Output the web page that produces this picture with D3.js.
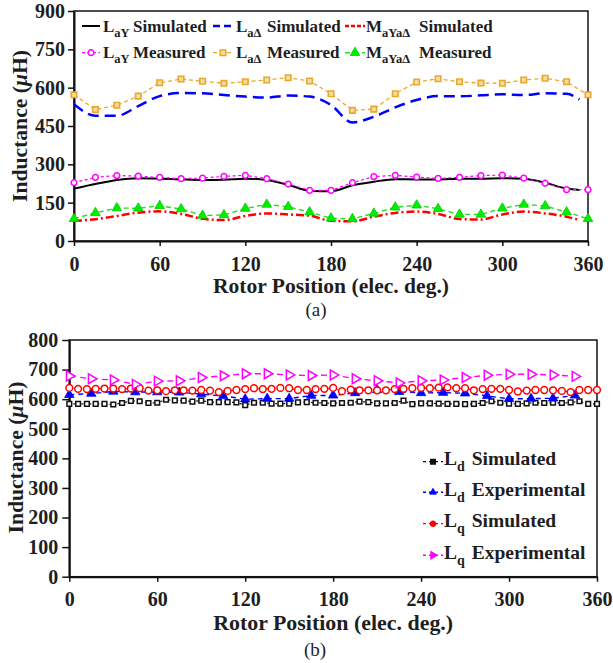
<!DOCTYPE html>
<html>
<head>
<meta charset="utf-8">
<script src="https://cdn.jsdelivr.net/npm/d3@7"></script>
<style>
  body { margin: 0; background: #fff; }
  svg text { font-family: "Liberation Serif", "Times New Roman", serif; fill: #1e1e1e; }
</style>
</head>
<body>
<div id="chart"></div>
<script>
// ---- data: chart (a), rotor position in elec. deg.
const simPos = [0, 15, 30, 45, 60, 75, 90, 105, 120, 135, 150, 165, 180, 195, 210, 225, 240, 255, 270, 285, 300, 315, 330, 345, 354];
const measPos = [0, 15, 30, 45, 60, 75, 90, 105, 120, 135, 150, 165, 180, 195, 210, 225, 240, 255, 270, 285, 300, 315, 330, 345, 360];

const laySim = [205, 223, 239, 246, 244, 241, 239, 240, 244, 239, 220, 197, 195, 218, 232, 242, 241, 241, 244, 244, 246, 244, 228, 205, 200];
const ladSim = [535, 490, 490, 528, 567, 579, 578, 571, 565, 561, 569, 565, 532, 464, 486, 523, 552, 567, 566, 570, 574, 571, 578, 576, 554];
const mSim = [79, 85, 98, 111, 116, 106, 87, 82, 98, 108, 104, 99, 79, 77, 95, 110, 115, 106, 86, 84, 104, 115, 108, 95, 82];

const layMeas = [228, 249, 256, 254, 249, 244, 246, 253, 257, 244, 223, 198, 198, 228, 252, 257, 250, 245, 249, 256, 258, 246, 226, 201, 201];
const ladMeas = [572, 514, 531, 567, 619, 634, 625, 617, 623, 630, 639, 626, 576, 511, 516, 576, 622, 635, 623, 618, 617, 630, 637, 623, 572];
const mMeas = [87, 110, 129, 128, 138, 125, 100, 102, 127, 143, 134, 113, 89, 87, 108, 132, 140, 126, 104, 104, 128, 143, 137, 113, 87];

// ---- data: chart (b)
const simPosB = [0, 6, 12, 18, 24, 30, 36, 42, 48, 54, 60, 66, 72, 78, 84, 90, 96, 102, 108, 114, 120, 126, 132, 138, 144, 150, 156, 162, 168, 174,
  180, 186, 192, 198, 204, 210, 216, 222, 228, 234, 240, 246, 252, 258, 264, 270, 276, 282, 288, 294, 300, 306, 312, 318, 324, 330, 336, 342, 348, 354, 360];
const expPosB = [0, 15, 30, 45, 60, 75, 90, 105, 120, 135, 150, 165, 180, 195, 210, 225, 240, 255, 270, 285, 300, 315, 330, 345];

const ldSim = [584, 584, 584, 584, 584, 582, 587, 594, 593, 587, 588, 598, 596, 595, 592, 595, 590, 590, 590, 589, 580, 588, 588, 585, 585, 585, 589, 590,
  588, 587, 586, 587, 588, 592, 590, 586, 586, 587, 595, 583, 586, 586, 585, 584, 584, 583, 584, 587, 593, 588, 585, 584, 586, 588, 587, 588, 587, 589, 593, 584, 584];
const lqSim = [638, 635, 634, 635, 636, 636, 634, 636, 637, 629, 630, 627, 630, 630, 629, 631, 629, 624, 628, 631, 634, 637, 634, 635, 638, 637, 631, 631,
  634, 635, 638, 627, 632, 630, 630, 630, 630, 634, 635, 637, 638, 637, 639, 640, 637, 637, 630, 634, 635, 635, 631, 626, 629, 631, 631, 630, 628, 624, 631, 631, 631];
const ldExp = [615, 619, 626, 624, 624, 623, 617, 611, 600, 602, 602, 612, 613, 621, 631, 625, 621, 622, 620, 611, 601, 602, 603, 613];
const lqExp = [678, 669, 665, 650, 661, 662, 673, 679, 686, 686, 682, 680, 682, 669, 662, 655, 662, 665, 673, 681, 684, 684, 682, 677];

const xTicks = [0, 60, 120, 180, 240, 300, 360];
const yTicksA = [0, 150, 300, 450, 600, 750, 900];
const yTicksB = [0, 100, 200, 300, 400, 500, 600, 700, 800];

const width = 613, height = 663;
const svg = d3.select("#chart").append("svg")
    .attr("width", width)
    .attr("height", height);

// marker shapes
const sym = {
    circle: d3.symbol().type(d3.symbolCircle),
    square: d3.symbol().type(d3.symbolSquare),
    triangle: d3.symbol().type(d3.symbolTriangle)
};
function drawMarker(g, shape, x, y, s) {
    if (shape === "tri-right") {
        g.append("path")
            .attr("d", d3.symbol().type(d3.symbolTriangle).size(s.size)())
            .attr("transform", `translate(${x},${y}) rotate(90)`)
            .attr("fill", s.fill).attr("stroke", s.stroke).attr("stroke-width", s.sw);
    } else {
        g.append("path")
            .attr("d", sym[shape].size(s.size)())
            .attr("transform", `translate(${x},${y})`)
            .attr("fill", s.fill).attr("stroke", s.stroke).attr("stroke-width", s.sw);
    }
}

function makePanel(cfg) {
    const g = svg.append("g");
    const x = d3.scaleLinear().domain([0, 360]).range([cfg.left, cfg.right]);
    const y = d3.scaleLinear().domain([0, cfg.ymax]).range([cfg.bottom, cfg.top]);

    // frame
    g.append("rect")
        .attr("x", cfg.left).attr("y", cfg.top)
        .attr("width", cfg.right - cfg.left).attr("height", cfg.bottom - cfg.top)
        .attr("fill", "none").attr("stroke", "#111").attr("stroke-width", 1.5);

    const xAxis = g.append("g")
        .attr("transform", `translate(0,${cfg.bottom})`)
        .call(d3.axisBottom(x).tickValues(xTicks).tickSize(5).tickSizeOuter(0).tickPadding(cfg.xPad));
    const yAxis = g.append("g")
        .attr("transform", `translate(${cfg.left},0)`)
        .call(d3.axisLeft(y).tickValues(cfg.yTicks).tickSize(cfg.ytick).tickSizeOuter(0).tickPadding(cfg.yPad));
    [xAxis, yAxis].forEach(a => {
        a.attr("font-family", null);
        a.select(".domain").attr("stroke", "#111").attr("stroke-width", 2);
        a.selectAll(".tick line").attr("stroke", "#111").attr("stroke-width", 1.5);
        a.selectAll(".tick text")
            .attr("fill", "#1e1e1e")
            .style("font-size", "20px")
            .style("font-weight", "bold");
    });

    // axis titles
    g.append("text")
        .attr("x", (cfg.left + cfg.right) / 2).attr("y", cfg.xTitleY)
        .attr("text-anchor", "middle")
        .attr("textLength", cfg.xTitleLen).attr("lengthAdjust", "spacingAndGlyphs")
        .style("font-size", "20px").style("font-weight", "bold")
        .text("Rotor Position (elec. deg.)");
    const yt = g.append("text")
        .attr("transform", `translate(${cfg.yTitleX},${cfg.yTitleMid}) rotate(-90)`)
        .attr("text-anchor", "middle")
        .attr("textLength", 152).attr("lengthAdjust", "spacingAndGlyphs")
        .style("font-size", "20px").style("font-weight", "bold");
    yt.append("tspan").text("Inductance (");
    yt.append("tspan").style("font-style", "italic").text("\u03bc");
    yt.append("tspan").text("H)");

    g.append("text")
        .attr("x", cfg.capX).attr("y", cfg.capY)
        .attr("text-anchor", "middle")
        .style("font-size", "19px")
        .text(cfg.caption);

    return { g, x, y };
}

function drawSeries(p, xs, ys, s) {
    const line = d3.line()
        .x((d, i) => p.x(xs[i]))
        .y(d => p.y(d))
        .curve(s.curve || d3.curveLinear);
    p.g.append("path")
        .datum(ys)
        .attr("d", line)
        .attr("fill", "none")
        .attr("stroke", s.color)
        .attr("stroke-width", s.width)
        .attr("stroke-dasharray", s.dash || null);
    if (s.marker) {
        ys.forEach((v, i) => drawMarker(p.g, s.marker, p.x(xs[i]), p.y(v), s.m));
    }
}

// legend label with subscript, then word placed at a fixed x
function legendLabel(g, x, y, main, sub, word, wordX, fs, subFs) {
    const t = g.append("text").attr("x", x).attr("y", y)
        .style("font-size", fs + "px").style("font-weight", "bold");
    t.append("tspan").text(main);
    t.append("tspan").attr("dy", subFs * 0.45).style("font-size", subFs + "px").text(sub);
    t.append("tspan").attr("x", wordX).attr("dy", -subFs * 0.45).text(word);
}
function legendSample(g, x1, x2, y, s) {
    g.append("line")
        .attr("x1", x1).attr("x2", x2).attr("y1", y).attr("y2", y)
        .attr("stroke", s.color).attr("stroke-width", s.width)
        .attr("stroke-dasharray", s.legDash || s.dash || null);
    if (s.marker) drawMarker(g, s.marker, (x1 + x2) / 2, y, s.m);
}

// ---------------- panel (a)
const pa = makePanel({
    left: 74, right: 588, top: 11, bottom: 241, ymax: 900, yTicks: yTicksA,
    ytick: 6, yPad: 3, xPad: 11,
    xTitleY: 293, xTitleLen: 236, yTitleX: 27, yTitleMid: 126,
    caption: "(a)", capX: 316, capY: 316
});

const stA = {
    laySim: { color: "#000", width: 2, curve: d3.curveMonotoneX },
    ladSim: { color: "#0000ff", width: 2.5, dash: "11,6", curve: d3.curveMonotoneX },
    mSim: { color: "#ff0000", width: 2.5, dash: "8,3,2,3", curve: d3.curveMonotoneX },
    layMeas: { color: "#ff00ff", width: 1.2, dash: "3,2.5", marker: "circle",
        m: { size: 26, fill: "#fff", stroke: "#ff00ff", sw: 1.5 } },
    ladMeas: { color: "#eaa82a", width: 1.3, dash: "4,3", marker: "square",
        m: { size: 30, fill: "#f7dca0", stroke: "#eaa82a", sw: 1.6 } },
    mMeas: { color: "#22dd22", width: 1.4, dash: "5,3.5", marker: "triangle",
        m: { size: 40, fill: "#00ee00", stroke: "#00cc00", sw: 0.8 } }
};

drawSeries(pa, simPos, laySim, stA.laySim);
drawSeries(pa, simPos, ladSim, stA.ladSim);
drawSeries(pa, simPos, mSim, stA.mSim);
drawSeries(pa, measPos, layMeas, stA.layMeas);
drawSeries(pa, measPos, ladMeas, stA.ladMeas);
drawSeries(pa, measPos, mMeas, stA.mMeas);

// legend (a)
legendSample(pa.g, 82, 100, 26, stA.laySim);
legendLabel(pa.g, 103, 31.7, "L", "aY", "Simulated", 133, 17, 12.5);
legendSample(pa.g, 213, 233, 26, { ...stA.ladSim, legDash: "7,4" });
legendLabel(pa.g, 236, 31.7, "L", "a\u0394", "Simulated", 267, 17, 12.5);
legendSample(pa.g, 345, 365, 26, { ...stA.mSim, legDash: "4,2" });
legendLabel(pa.g, 366, 31.7, "M", "aYa\u0394", "Simulated", 419, 17, 12.5);

legendSample(pa.g, 82, 100, 52.7, stA.layMeas);
legendLabel(pa.g, 103, 57.5, "L", "aY", "Measured", 133, 17, 12.5);
legendSample(pa.g, 213, 233, 52.7, stA.ladMeas);
legendLabel(pa.g, 236, 57.5, "L", "a\u0394", "Measured", 267, 17, 12.5);
legendSample(pa.g, 345, 365, 52.7, stA.mMeas);
legendLabel(pa.g, 366, 57.5, "M", "aYa\u0394", "Measured", 419, 17, 12.5);

// ---------------- panel (b)
const pb = makePanel({
    left: 69.3, right: 597, top: 340, bottom: 576.7, ymax: 800, yTicks: yTicksB,
    ytick: 7, yPad: 4, xPad: 10,
    xTitleY: 629.5, xTitleLen: 240, yTitleX: 23, yTitleMid: 457.5,
    caption: "(b)", capX: 315, capY: 656
});

const stB = {
    ldSim: { color: "#111", width: 1.2, dash: "2,2", marker: "square",
        m: { size: 22, fill: "#fff", stroke: "#111", sw: 1.5 } },
    ldExp: { color: "#0000ff", width: 1.4, dash: "5,4", marker: "triangle",
        m: { size: 38, fill: "#0000ff", stroke: "#0000ff", sw: 0.8 } },
    lqSim: { color: "#ff0000", width: 1.2, dash: "4,3", marker: "circle",
        m: { size: 36, fill: "#fff", stroke: "#ff0000", sw: 1.5 } },
    lqExp: { color: "#ff00ff", width: 1.4, dash: "6,5", marker: "tri-right",
        m: { size: 42, fill: "#fff", stroke: "#ff00ff", sw: 1.5 } }
};

drawSeries(pb, simPosB, ldSim, stB.ldSim);
drawSeries(pb, expPosB, ldExp, stB.ldExp);
drawSeries(pb, simPosB, lqSim, stB.lqSim);
drawSeries(pb, expPosB, lqExp, stB.lqExp);

// legend (b)
const legB = [
    { st: stB.ldSim, sub: "d", word: "Simulated", y: 465 },
    { st: stB.ldExp, sub: "d", word: "Experimental", y: 495.5 },
    { st: stB.lqSim, sub: "q", word: "Simulated", y: 527 },
    { st: stB.lqExp, sub: "q", word: "Experimental", y: 558.5 }
];
legB.forEach(e => {
    const mk = { ...e.st, legDash: "3,3", m: { ...e.st.m, size: 20, fill: e.st.m.stroke } };
    legendSample(pb.g, 423, 443, e.y - 3.3, mk);
    legendLabel(pb.g, 444, e.y, "L", e.sub, e.word, 471.7, 19.5, 14);
});
</script>
</body>
</html>
